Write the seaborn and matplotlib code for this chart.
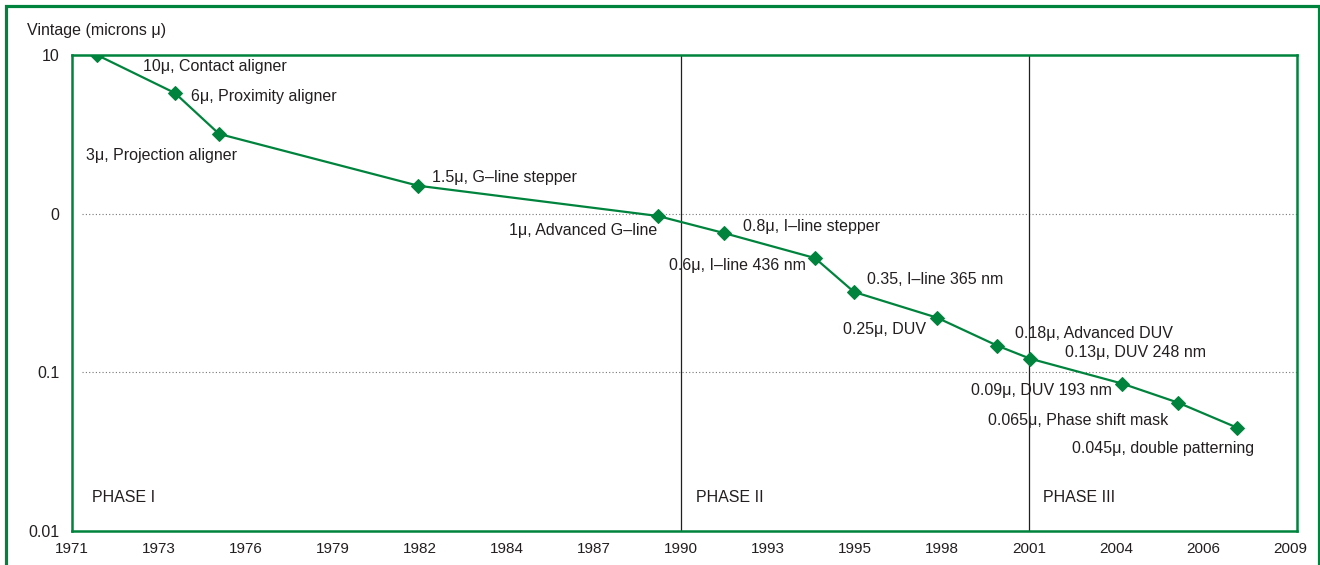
import numpy as np
import matplotlib

matplotlib.use('Agg')
import matplotlib.pyplot as plt
import pandas as pd
import seaborn as sns
from matplotlib.patches import Rectangle

# --- data ---
years = [1971.78, 1974.21, 1975.59, 1981.80, 1989.28, 1991.34, 1994.18,
         1995.40, 1997.99, 1999.86, 2000.89, 2003.76, 2005.51, 2007.35]
microns = [10.0, 5.76, 3.18, 1.50, 0.967, 0.755, 0.525,
           0.321, 0.221, 0.1475, 0.122, 0.085, 0.0644, 0.0448]
labels = ['10\u03bc, Contact aligner', '6\u03bc, Proximity aligner',
          '3\u03bc, Projection aligner', '1.5\u03bc, G\u2013line stepper',
          '1\u03bc, Advanced G\u2013line', '0.8\u03bc, I\u2013line stepper',
          '0.6\u03bc, I\u2013line 436 nm', '0.35, I\u2013line 365 nm',
          '0.25\u03bc, DUV', '0.18\u03bc, Advanced DUV', '0.13\u03bc, DUV 248 nm',
          '0.09\u03bc, DUV 193 nm', '0.065\u03bc, Phase shift mask',
          '0.045\u03bc, double patterning']

tick_labels = ['1971', '1973', '1976', '1979', '1982', '1984', '1987', '1990',
               '1993', '1995', '1998', '2001', '2004', '2006', '2009']
y_ticks = [10, 1, 0.1, 0.01]
y_tick_labels = ['10', '0', '0.1', '0.01']

phase_names = ['PHASE I', 'PHASE II', 'PHASE III']
phase_starts = [1971.0, 1990.0, 2000.85]

# label placement (pixel offsets from each point, alignment)
label_offsets = [(46, -12, 'left'), (16, -3, 'left'), (-133, -22, 'left'),
                 (14, 8, 'left'), (-1, -15, 'right'), (19, 7, 'left'),
                 (-9, -7, 'right'), (13, 12, 'left'), (-11, -12, 'right'),
                 (18, 12, 'left'), (35, 6, 'left'), (-10, -7, 'right'),
                 (-10, -18, 'right'), (17, -21, 'right')]
phase_offsets = [20, 15, 14]

GREEN = '#00843d'
INK = '#231f20'

sns.set_style('white')
plt.rcParams['font.family'] = ['Liberation Sans', 'DejaVu Sans']

df = pd.DataFrame({'year': years, 'microns': microns})

fig = plt.figure(figsize=(13.2, 5.65), dpi=100)
ax = fig.add_axes([72 / 1320, 34 / 565, 1225 / 1320, 476 / 565])

# outer green frame (runs off the bottom of the picture)
fig.patches.append(Rectangle((6 / 1320, -0.2), 1313 / 1320, 1.2 - 6 / 565,
                             transform=fig.transFigure, fill=False,
                             edgecolor=GREEN, linewidth=2.3, clip_on=False))

sns.lineplot(data=df, x='year', y='microns', ax=ax, color=GREEN,
             linewidth=1.6, marker='D', markersize=7,
             markeredgecolor=GREEN, markerfacecolor=GREEN, zorder=4)

ax.set_yscale('log')
ax.set_ylim(0.01, 10)
ax.set_xlim(1971, 2009.22)

# dotted reference lines
for yv in [1, 0.1]:
    ax.axhline(yv, xmin=0.008, color='#777777', linestyle=(0, (1, 2)),
               linewidth=0.8, zorder=1)

# phase boundaries and names
for start in phase_starts[1:]:
    ax.axvline(start, color=INK, linewidth=0.9, zorder=2)
for name, start, dx in zip(phase_names, phase_starts, phase_offsets):
    ax.annotate(name, xy=(start, 0.01), xytext=(dx, 33),
                textcoords='offset pixels', ha='left', va='center',
                fontsize=11.5, color=INK)

for x, y, text, (dx, dy, ha) in zip(years, microns, labels, label_offsets):
    ax.annotate(text, xy=(x, y), xytext=(dx, dy), textcoords='offset pixels',
                ha=ha, va='center', fontsize=11.5, color=INK)

# axes styling
ax.set_xticks(np.linspace(1971, 2009, len(tick_labels)))
ax.set_xticklabels(tick_labels)
ax.set_yticks(y_ticks)
ax.set_yticklabels(y_tick_labels)
ax.yaxis.set_minor_locator(matplotlib.ticker.NullLocator())
ax.tick_params(axis='x', direction='in', length=10, width=0.9, color=INK,
               labelsize=11, labelcolor=INK, pad=8)
ax.tick_params(axis='y', length=0, labelsize=11.5, labelcolor=INK, pad=9)
ax.set_xlabel('')
ax.set_ylabel('')
for side in ['left', 'right', 'top', 'bottom']:
    ax.spines[side].set_visible(True)
    ax.spines[side].set_color(GREEN)
    ax.spines[side].set_linewidth(1.8)

fig.text(27 / 1320, 1 - 30 / 565, 'Vintage (microns \u03bc)', ha='left',
         va='center', fontsize=11.5, color=INK)

fig.savefig('out.png', dpi=100)
plt.close(fig)
